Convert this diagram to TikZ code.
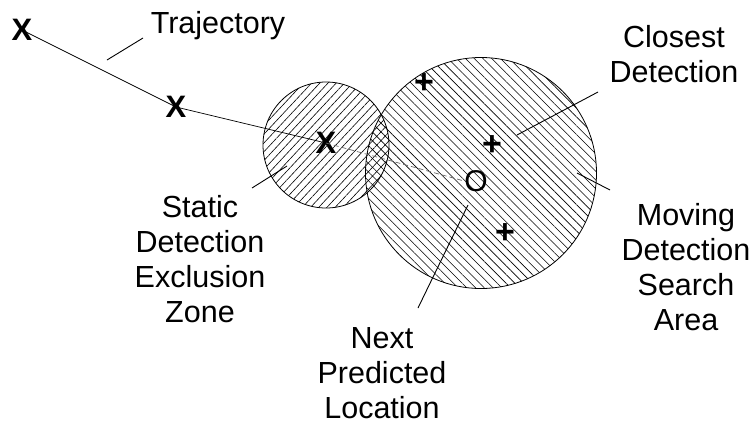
\documentclass[tikz,border=0pt]{standalone}
\usepackage{fontspec}
\setmainfont{Liberation Sans}
\usetikzlibrary{patterns.meta}
\tikzset{
  lbl/.style={align=center, inner sep=0pt, font=\fontsize{30.5}{34.7}\selectfont},
  xmark/.style={inner sep=0pt, font=\fontsize{31}{31}\selectfont\bfseries},
  pmark/.style={inner sep=0pt, font=\fontsize{34}{34}\selectfont\bfseries},
  omark/.style={inner sep=0pt, font=\fontsize{30}{30}\selectfont},
  zone/.style={draw=black, line width=0.8pt},
  leader/.style={draw=black, line width=0.9pt},
  traj/.style={draw=black, line width=0.7pt},
}
\begin{document}
\begin{tikzpicture}[x=1pt,y=-1pt]
\useasboundingbox (0,0) rectangle (755,426);
% zones
\node[zone, circle, minimum size=126pt, inner sep=0pt,
      pattern={Lines[angle=47,distance=6pt,line width=0.6pt]}] (static) at (326,145) {};
\node[zone, circle, minimum size=231pt, inner sep=0pt,
      pattern={Lines[angle=-45,distance=6.2pt,line width=0.6pt]}] (search) at (481,173) {};
% marks
\node[xmark] (x1) at (22,30) {X};
\node[xmark] (x2) at (176,107) {X};
\node[xmark] (x3) at (326,143) {X};
\node[omark] (o) at (476,181) {O};
\node[pmark] (p1) at (424,84) {+};
\node[pmark] (p2) at (492,146) {+};
\node[pmark] (p3) at (505,234) {+};
% trajectory
\draw[traj] (x1.center) -- (x2.center) -- (x3.center);
\draw[traj, draw=black!60, dash pattern=on 5pt off 3pt] (x3.center) -- (o.west);
% labels (base = baseline of last line)
\node[lbl, anchor=base] (tl) at (218,33) {Trajectory};
\node[lbl, anchor=base] (sl) at (200,322) {Static\\Detection\\Exclusion\\Zone};
\node[lbl, anchor=base] (nl) at (382,418) {Next\\Predicted\\Location};
\node[lbl, anchor=base] (cl) at (674,82) {Closest\\Detection};
\node[lbl, anchor=base] (ml) at (686,330) {Moving\\Detection\\Search\\Area};
% leader ends
\coordinate (ta) at (107,60);  \coordinate (tb) at (143,38);
\coordinate (sa) at (252,188); \coordinate (sb) at (287,166);
\coordinate (na) at (418,308); \coordinate (nb) at (468,205);
\coordinate (ca) at (517,135); \coordinate (cb) at (598,92);
\coordinate (ma) at (577,173); \coordinate (mb) at (610,190);
\draw[leader] (ta) -- (tb);
\draw[leader] (sa) -- (sb);
\draw[leader] (na) -- (nb);
\draw[leader] (ca) -- (cb);
\draw[leader] (ma) -- (mb);
\end{tikzpicture}
\end{document}
